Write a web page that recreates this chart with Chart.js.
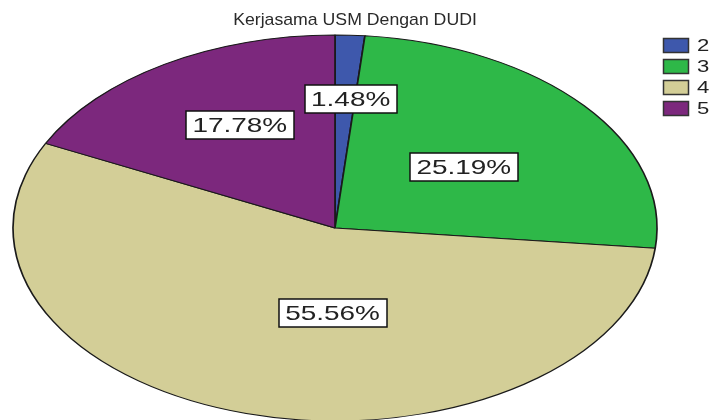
<!DOCTYPE html>
<html><head><meta charset="utf-8">
<script src="https://cdn.jsdelivr.net/npm/chart.js@4/dist/chart.umd.min.js"></script>
<style>html,body{margin:0;padding:0;background:#fff;overflow:hidden}</style>
</head><body>
<canvas id="c" width="713" height="420"></canvas>
<script>
// ---- data ----
const chartTitle = "Kerjasama USM Dengan DUDI";
const categories = ["2", "3", "4", "5"];
const counts = [2, 34, 75, 24];
const sliceColors = ["#3E58AC", "#2EB848", "#D3CE97", "#7C287D"];

// ---- style ----
const STRETCH_X = 322 / 193;          // horizontal stretch of the pie (ellipse)
const labelRadiusFrac = [0.67, 0.51, 0.44, 0.61];
const labelAngleShiftDeg = [1.5, 1, -15, 3];
const FONT = '"Liberation Sans", Arial, sans-serif';

const total = counts.reduce((a, b) => a + b, 0);
const percentText = counts.map(v => (v / total * 100).toFixed(2) + "%");

function stretchedText(ctx, text, x, y, sx, align) {
  ctx.save();
  ctx.translate(x, y);
  ctx.scale(sx, 1);
  ctx.textAlign = align || 'center';
  ctx.fillText(text, 0, 0);
  ctx.restore();
}

const ellipsePlugin = {
  id: 'ellipse',
  beforeDatasetsDraw(chart) {
    const arc = chart.getDatasetMeta(0).data[0];
    const ctx = chart.ctx;
    ctx.save();
    ctx.translate(arc.x, arc.y);
    ctx.scale(STRETCH_X, 1);
    ctx.translate(-arc.x, -arc.y);
  },
  afterDatasetsDraw(chart) {
    chart.ctx.restore();
  }
};

const decoPlugin = {
  id: 'deco',
  afterDraw(chart) {
    const ctx = chart.ctx;
    const meta = chart.getDatasetMeta(0);
    // percentage labels
    ctx.save();
    ctx.font = '21px ' + FONT;
    ctx.textBaseline = 'middle';
    const tsx = 1.33;
    meta.data.forEach((arc, i) => {
      const p = arc.getProps(['x', 'y', 'startAngle', 'endAngle', 'outerRadius'], true);
      const mid = (p.startAngle + p.endAngle) / 2 + labelAngleShiftDeg[i] * Math.PI / 180;
      const r = p.outerRadius * labelRadiusFrac[i];
      const cx = p.x + Math.cos(mid) * r * STRETCH_X;
      const cy = p.y + Math.sin(mid) * r;
      const txt = percentText[i];
      const w = ctx.measureText(txt).width * tsx + 13;
      const h = 28;
      ctx.fillStyle = '#ffffff';
      ctx.fillRect(Math.round(cx - w / 2), Math.round(cy - h / 2), Math.round(w), h);
      ctx.strokeStyle = '#111';
      ctx.lineWidth = 1.5;
      ctx.strokeRect(Math.round(cx - w / 2), Math.round(cy - h / 2), Math.round(w), h);
      ctx.fillStyle = '#222';
      stretchedText(ctx, txt, cx, cy + 1, tsx, 'center');
    });
    ctx.restore();

    // title
    ctx.save();
    ctx.font = '17px ' + FONT;
    ctx.fillStyle = '#2a2a2a';
    ctx.textBaseline = 'middle';
    stretchedText(ctx, chartTitle, 355, 20, 1.04, 'center');
    ctx.restore();

    // legend
    ctx.save();
    ctx.font = '17px ' + FONT;
    ctx.textBaseline = 'middle';
    categories.forEach((c, i) => {
      const y = 38 + i * 21;
      ctx.fillStyle = sliceColors[i];
      ctx.fillRect(663.5, y + 0.5, 25, 14);
      ctx.strokeStyle = '#333';
      ctx.lineWidth = 1.5;
      ctx.strokeRect(663.5, y + 0.5, 25, 14);
      ctx.fillStyle = '#222';
      stretchedText(ctx, c, 697, y + 8, 1.3, 'left');
    });
    ctx.restore();
  }
};

new Chart(document.getElementById('c'), {
  type: 'pie',
  data: {
    labels: categories,
    datasets: [{
      data: counts,
      backgroundColor: sliceColors,
      borderColor: '#1a1a1a',
      borderWidth: 1,
      clip: false
    }]
  },
  options: {
    responsive: false,
    devicePixelRatio: 1,
    animation: false,
    radius: 193,
    layout: { padding: { left: 0, right: 43, top: 36, bottom: 0 } },
    plugins: {
      legend: { display: false },
      title: { display: false },
      tooltip: { enabled: false }
    }
  },
  plugins: [ellipsePlugin, decoPlugin]
});
</script>
</body></html>
